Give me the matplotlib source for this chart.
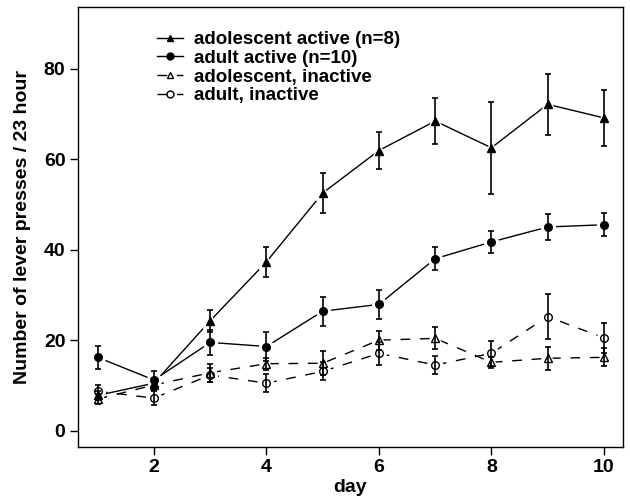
import numpy as np
import matplotlib
matplotlib.use("Agg")
import matplotlib.pyplot as plt

plt.rcParams['font.family'] = ['Liberation Sans', 'DejaVu Sans']
plt.rcParams['font.weight'] = 'bold'

# data (mean +/- SEM)
days = [1, 2, 3, 4, 5, 6, 7, 8, 9, 10]

ado_active = [7.8, 10.5, 24.3, 37.3, 52.5, 61.9, 68.4, 62.5, 72.1, 69.1]
ado_active_err = [1.0, 1.2, 2.4, 3.3, 4.4, 4.1, 5.1, 10.1, 6.8, 6.1]

adult_active = [16.2, 11.2, 19.5, 18.6, 26.4, 27.9, 38.0, 41.7, 45.0, 45.5]
adult_active_err = [2.6, 1.9, 2.7, 3.3, 3.2, 3.2, 2.6, 2.4, 2.8, 2.5]

ado_inactive = [7.0, 10.1, 12.8, 14.8, 14.9, 20.0, 20.4, 15.1, 16.0, 16.2]
ado_inactive_err = [1.0, 1.2, 2.0, 1.3, 2.6, 2.1, 2.4, 1.2, 2.6, 2.0]

adult_inactive = [8.7, 7.2, 12.3, 10.5, 13.1, 17.1, 14.5, 17.1, 25.2, 20.5]
adult_inactive_err = [1.4, 1.6, 1.5, 2.0, 2.0, 2.6, 1.9, 2.8, 4.9, 3.4]

labels = ["adolescent active (n=8)", "adult active (n=10)",
          "adolescent, inactive", "adult, inactive"]

series = [
    (ado_active, ado_active_err, '^', 'k', '-'),
    (adult_active, adult_active_err, 'o', 'k', '-'),
    (ado_inactive, ado_inactive_err, '^', 'none', (0, (7, 7))),
    (adult_inactive, adult_inactive_err, 'o', 'none', (0, (7, 7))),
]

fig = plt.figure(figsize=(6.3, 5.04), dpi=100)
ax = fig.add_axes([0.1238, 0.1131, 0.8651, 0.873])

handles = []
for (vals, err, mk, fc, ls), lab in zip(series, labels):
    # connecting line, with a white gap round each point like R type="b"
    ax.plot(days, vals, color='k', lw=1, ls=ls, zorder=1)
    ax.plot(days, vals, ls='none', marker=mk, ms=10, mfc='white', mec='white', zorder=2)
    ax.errorbar(days, vals, yerr=err, fmt='none', ecolor='k', elinewidth=1.2,
                capsize=2.5, capthick=1.2, zorder=3)
    ax.plot(days, vals, ls='none', marker=mk, ms=5.5, mfc=fc, mec='k', mew=1, zorder=4)
    h, = ax.plot([], [], color='k', lw=1, ls=ls, marker=mk, ms=5, mfc=fc, mec='k')
    handles.append(h)

ax.set_xlim(0.649, 10.34)
ax.set_ylim(-3.6, 93.6)
ax.set_xticks([2, 4, 6, 8, 10])
ax.set_yticks([0, 20, 40, 60, 80])
ax.tick_params(direction='out', length=6, width=1, labelsize=14, pad=3)
for lbl in ax.get_xticklabels() + ax.get_yticklabels():
    lbl.set_fontweight('bold')
for sp in ax.spines.values():
    sp.set_linewidth(1)

ax.set_xlabel("day", fontsize=14, fontweight='bold', labelpad=2)
ax.set_ylabel("Number of lever presses / 23 hour", fontsize=14, fontweight='bold', labelpad=9)

ax.legend(handles, labels, loc='upper left', bbox_to_anchor=(0.145, 0.945),
          frameon=False, handlelength=1.4, handletextpad=0.55,
          labelspacing=0.08, borderpad=0, borderaxespad=0,
          prop={'weight': 'bold', 'size': 13.5})

fig.savefig("out.png", dpi=100)
